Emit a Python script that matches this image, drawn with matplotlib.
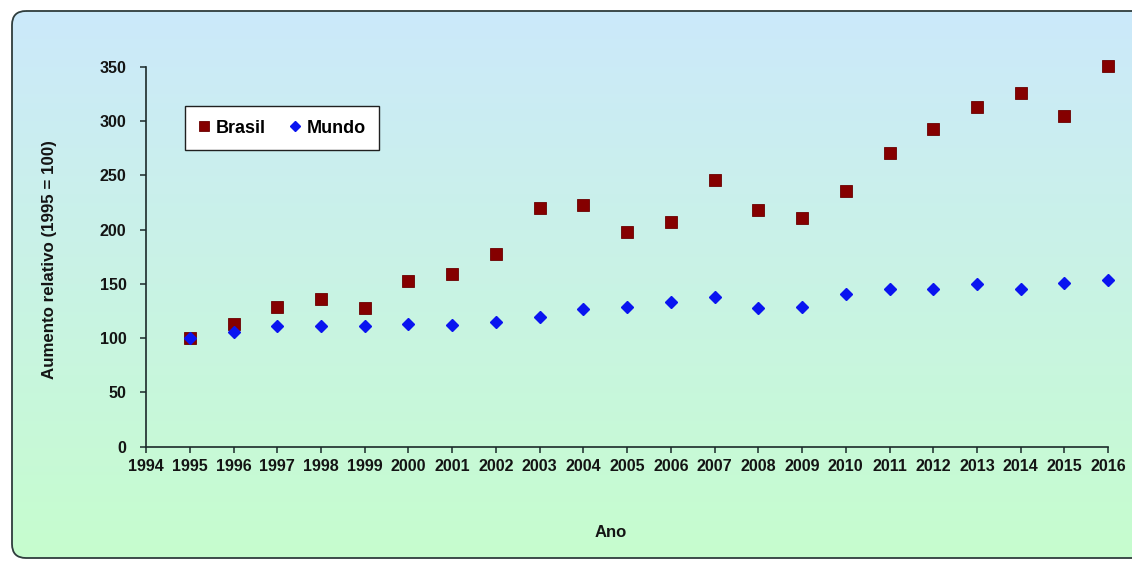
import numpy as np
import matplotlib.pyplot as plt
from matplotlib.patches import FancyBboxPatch

plt.rcParams['font.family'] = ['Liberation Sans', 'DejaVu Sans']
plt.rcParams['font.weight'] = 'bold'
plt.rcParams['axes.labelweight'] = 'bold'

anos = list(range(1995, 2017))
brasil = [100, 113, 129, 136, 128, 153, 159, 178, 220, 223, 198, 207,
          246, 218, 211, 236, 271, 293, 313, 326, 305, 351]
mundo = [100, 106, 111, 111, 111, 113, 112, 115, 120, 127, 129, 133,
         138, 128, 129, 141, 145, 145, 150, 145, 151, 154]
xticks = list(range(1994, 2017))
yticks = list(range(0, 351, 50))

W, H = 1132, 561
fig = plt.figure(figsize=(W / 100, H / 100), dpi=100, facecolor='white')

# fundo com gradiente azul -> verde e borda arredondada
bg = fig.add_axes([0, 0, 1, 1], zorder=-1)
bg.set_xlim(0, W)
bg.set_ylim(H, 0)
bg.axis('off')
top = np.array([204, 233, 251]) / 255
bot = np.array([198, 253, 206]) / 255
t = np.linspace(0, 1, 256)[:, None]
grad = (top[None, :] * (1 - t) + bot[None, :] * t)[:, None, :]
frame = FancyBboxPatch((12, 11), 1150, 547, boxstyle='round,pad=0,rounding_size=14',
                       fc='none', ec='#2f3d3d', lw=1.3, zorder=2)
bg.add_patch(frame)
im = bg.imshow(grad, extent=(12, 1162, 558, 11), aspect='auto', zorder=1)
im.set_clip_path(frame)

ax = fig.add_axes([0.129, 0.2037, 0.85, 0.677])
ax.patch.set_alpha(0)
ax.plot(anos, brasil, ls='none', marker='s', ms=8, mfc='#850000', mec='#6a0000',
        mew=0.6, label='Brasil', clip_on=False)
ax.plot(anos, mundo, ls='none', marker='D', ms=5.8, mfc='#0a14f0', mec='#0a14f0',
        label='Mundo', clip_on=False)

ax.set_xlim(1994, 2016)
ax.set_ylim(0, 350)
ax.set_xticks(xticks)
ax.set_yticks(yticks)
for s in ['top', 'right']:
    ax.spines[s].set_visible(False)
for s in ['left', 'bottom']:
    ax.spines[s].set_color('#1c2a2a')
    ax.spines[s].set_linewidth(1.2)
ax.tick_params(axis='both', colors='#1c2a2a', length=4, width=1.1,
               labelsize=11.6, labelcolor='#141414')
ax.tick_params(axis='x', pad=5)
ax.tick_params(axis='y', pad=10)

ax.set_xlabel('Ano', fontsize=12, color='#141414')
ax.xaxis.set_label_coords(0.483, -0.206)
ax.set_ylabel('Aumento relativo (1995 = 100)', fontsize=12.2, color='#141414')
ax.yaxis.set_label_coords(-0.0925, 0.494)

leg = ax.legend(loc='upper left', bbox_to_anchor=(0.0405, 0.897), ncol=2,
                fontsize=13, frameon=True, fancybox=False, edgecolor='#202020',
                facecolor='white', framealpha=1, borderaxespad=0, borderpad=0.75,
                handlelength=0.6, handletextpad=0.35, columnspacing=1.3,
                markerscale=0.9)
leg.get_frame().set_linewidth(1.0)

fig.savefig('out.png', dpi=100)
